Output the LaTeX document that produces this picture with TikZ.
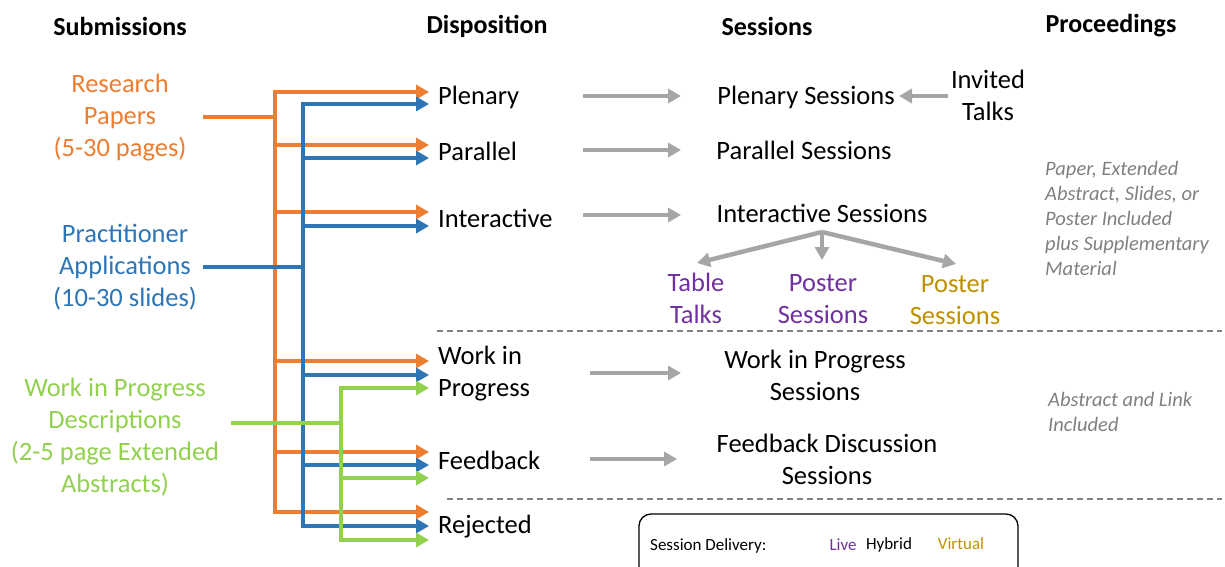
\documentclass[tikz,border=0pt]{standalone}
\usepackage{fontspec}
\setmainfont{Carlito}
\usepackage{xcolor}
\usepackage{tikz}
\usetikzlibrary{positioning}
\usetikzlibrary{arrows.meta}

\definecolor{rporange}{HTML}{ED7D31}
\definecolor{pablue}{HTML}{2E75B6}
\definecolor{wipgreen}{HTML}{92D050}
\definecolor{arrgray}{HTML}{A6A6A6}
\definecolor{notegray}{HTML}{808080}
\definecolor{livepurple}{HTML}{7030A0}
\definecolor{virtgold}{HTML}{BF9000}

\begin{document}
\begin{tikzpicture}[x=1pt, y=-1pt,
	big/.style  = {font=\fontsize{26.5}{32}\selectfont, inner sep=0pt, align=center},
	head/.style = {big, font=\fontsize{26}{32}\selectfont\bfseries},
	note/.style = {font=\fontsize{20.5}{25}\selectfont\itshape, text=notegray, inner sep=0pt, align=left, anchor=west},
	small/.style = {font=\fontsize{17}{20}\selectfont, inner sep=0pt, anchor=base}]

	\useasboundingbox (0,0) rectangle (1225,567);

	% 样式
	\tikzset{
	tip/.style   = {arrows = {-Triangle[length=13pt, width=14pt]}},
	trunk/.style = {line width=4.5pt, line cap=rect},
	oline/.style = {line width=4.5pt, rporange},
	bline/.style = {line width=4.5pt, pablue},
	gline/.style = {line width=4.5pt, wipgreen},
	grayarrow/.style = {line width=4.5pt, arrgray, arrows = {-Triangle[length=13pt, width=14pt]}},
	dashline/.style  = {line width=1.3pt, notegray, dash pattern=on 6pt off 4pt}
	}

	% 标题
	\node[head] (h-sub) at (120,26)  {Submissions};
	\node[head] (h-dis) at (487,26)  {Disposition};
	\node[head] (h-ses) at (767,26)  {Sessions};
	\node[head] (h-pro) at (1111,26) {Proceedings};

	% 投稿
	\node[big, text=rporange] (rp)  at (120,118) {Research\\Papers\\(5-30 pages)};
	\node[big, text=pablue]   (pa)  at (125,267) {Practitioner\\Applications\\(10-30 slides)};
	\node[big, text=wipgreen] (wip) at (115,437) {Work in Progress\\Descriptions\\(2-5 page Extended\\Abstracts)};

	% 处理结果
	\node[big, anchor=west] (plen)  at (438,97)  {Plenary};
	\node[big, anchor=west] (par)   at (438,151) {Parallel};
	\node[big, anchor=west] (inter) at (438,218) {Interactive};
	\node[big, anchor=west, align=left] (wipd) at (438,374) {Work in\\Progress};
	\node[big, anchor=west] (feed)  at (438,460) {Feedback};
	\node[big, anchor=west] (rej)   at (438,527) {Rejected};

	% 会议
	\node[big] (s-plen)  at (806,97)  {Plenary Sessions};
	\node[big] (s-par)   at (804,150) {Parallel Sessions};
	\node[big] (s-inter) at (822,213) {Interactive Sessions};
	\node[big] (s-wip)   at (815,375) {Work in Progress\\Sessions};
	\node[big] (s-feed)  at (827,459) {Feedback Discussion\\Sessions};
	\node[big] (invited) at (988,95)  {Invited\\Talks};

	\node[big, text=livepurple] (table)  at (696,298) {Table\\Talks};
	\node[big, text=livepurple] (post-l) at (823,299) {Poster\\Sessions};
	\node[big, text=virtgold]   (post-v) at (955,300) {Poster\\Sessions};

	% 论文集
	\node[note] (n-full) at (1045,218) {Paper, Extended\\Abstract, Slides, or\\Poster Included\\plus Supplementary\\Material};
	\node[note] (n-abs)  at (1048,412) {Abstract and Link\\Included};

	% 橙色
	\coordinate (rp-out) at (203,117);
	\coordinate (o-top)  at (275,92);
	\coordinate (o-bot)  at (275,512);
	\draw[oline] (rp-out) -- (rp-out -| o-top);
	\draw[oline, trunk] (o-top) -- (o-bot);
	\foreach \y in {92,145,212,361,452,512} {
		\coordinate (o-\y) at (429,\y);
		\draw[oline, tip] (o-top |- o-\y) -- (o-\y);
	}

	% 蓝色
	\coordinate (pa-out) at (203,267);
	\coordinate (b-top)  at (303,104);
	\coordinate (b-bot)  at (303,526);
	\draw[bline, trunk] (b-top) -- (b-bot);
	\draw[bline] (pa-out) -- (pa-out -| b-top);
	\foreach \y in {104,158,226,375,465,526} {
		\coordinate (b-\y) at (429,\y);
		\draw[bline, tip] (b-top |- b-\y) -- (b-\y);
	}

	% 绿色
	\coordinate (wip-out) at (231,423);
	\coordinate (g-top)   at (341,388);
	\coordinate (g-bot)   at (341,540);
	\draw[gline, trunk] (g-top) -- (g-bot);
	\draw[gline] (wip-out) -- (wip-out -| g-top);
	\foreach \y in {388,478,540} {
		\coordinate (g-\y) at (429,\y);
		\draw[gline, tip] (g-top |- g-\y) -- (g-\y);
	}

	% 灰色箭头
	\coordinate (plen-a)  at (583,96);  \coordinate (plen-b)  at (681,96);
	\coordinate (par-a)   at (583,150); \coordinate (par-b)   at (681,150);
	\coordinate (inter-a) at (583,215); \coordinate (inter-b) at (681,215);
	\coordinate (wipd-a)  at (590,373); \coordinate (wipd-b)  at (681,373);
	\coordinate (feed-a)  at (590,459); \coordinate (feed-b)  at (677,459);
	\coordinate (inv-a)   at (948,96);  \coordinate (inv-b)   at (899,96);
	\draw (plen-a)  edge [grayarrow] (plen-b);
	\draw (par-a)   edge [grayarrow] (par-b);
	\draw (inter-a) edge [grayarrow] (inter-b);
	\draw (wipd-a)  edge [grayarrow] (wipd-b);
	\draw (feed-a)  edge [grayarrow] (feed-b);
	\draw (inv-a)   edge [grayarrow] (inv-b);

	\coordinate (apex)   at (822,232);
	\coordinate (tab-in) at (697,263);
	\coordinate (pl-in)  at (822,260);
	\coordinate (pv-in)  at (956,264);
	\draw (apex) edge [grayarrow] (tab-in);
	\draw (apex) edge [grayarrow] (pl-in);
	\draw (apex) edge [grayarrow] (pv-in);

	% 虚线
	\coordinate (d1-l) at (437,331); \coordinate (d1-r) at (1222,331);
	\coordinate (d2-l) at (447,499); \coordinate (d2-r) at (1222,499);
	\draw[dashline] (d1-l) -- (d1-r);
	\draw[dashline] (d2-l) -- (d2-r);

	% 会议形式
	\node[draw, line width=1.3pt, rounded corners=12pt, minimum width=379pt, minimum height=70pt, inner sep=0pt] (deliv) at (828.5,549) {};
	\node[small, anchor=base west] (sd) at (650,550) {Session Delivery:};
	\node[small, text=livepurple] (live) at (843,550) {Live};
	\node[small] (hyb) at (889,549) {Hybrid};
	\node[small, text=virtgold] (virt) at (961,549) {Virtual};

\end{tikzpicture}
\end{document}
